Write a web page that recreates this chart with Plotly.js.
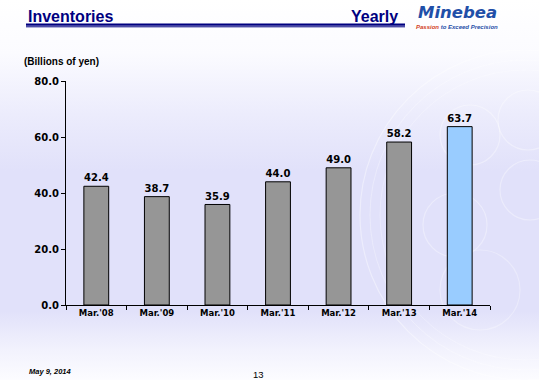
<!DOCTYPE html>
<html>
<head>
<meta charset="utf-8">
<script src="https://cdn.plot.ly/plotly-3.0.1.min.js"></script>
<style>
html,body{margin:0;padding:0;}
body{width:539px;height:380px;overflow:hidden;
background:linear-gradient(to bottom,#ffffff 0%,#fbfbff 14%,#ececfc 30%,#e1e1fa 45%,#e1e1fa 82%,#f2f2fd 92%,#fcfcff 100%);}
#chart{width:539px;height:380px;}
</style>
</head>
<body>
<div id="chart"></div>
<script>
const categories = ["Mar.'08","Mar.'09","Mar.'10","Mar.'11","Mar.'12","Mar.'13","Mar.'14"];
const inventories = [42.4, 38.7, 35.9, 44.0, 49.0, 58.2, 63.7];
const yTicks = [0, 20, 40, 60, 80];
const yTickLabels = ["0.0","20.0","40.0","60.0","80.0"];
const barColors = ["#969696","#969696","#969696","#969696","#969696","#969696","#99ccff"];

const W = 539, H = 380;
const L = 66, R = 490, T = 81, B = 305;
const px = x => (x - L) / (R - L);
const py = y => (B - y) / (B - T);

const shapes = [
  {type:'line', xref:'paper', yref:'paper', x0:px(26), x1:px(405), y0:py(24.6), y1:py(24.6), line:{color:'#000080', width:2.2}},
  {type:'line', xref:'paper', yref:'paper', x0:px(26), x1:px(405), y0:py(26.8), y1:py(26.8), line:{color:'#000080', width:1}}
];
function circ(cx, cy, r, op, w){
  shapes.push({type:'circle', xref:'paper', yref:'paper', layer:'below',
    x0:px(cx-r), x1:px(cx+r), y0:py(cy+r), y1:py(cy-r),
    line:{color:'rgba(255,255,255,'+op+')', width:w||1.2}});
}
circ(525, 215, 165, 0.4, 1.2);
circ(525, 215, 155, 0.3, 1);
circ(525, 215, 145, 0.25, 1);
circ(470, 135, 30, 0.35, 1.2);
circ(528, 120, 30, 0.35, 1.2);
circ(455, 225, 32, 0.35, 1.2);
circ(530, 190, 30, 0.35, 1.2);
circ(480, 290, 40, 0.3, 1.2);

const annotations = [
  {text:'Inventories', xref:'paper', yref:'paper', x:px(26), y:py(17), xanchor:'left', yanchor:'middle', showarrow:false,
   font:{family:'Liberation Sans, Arial', size:16, color:'#000080', weight:'bold'}},
  {text:'Yearly', xref:'paper', yref:'paper', x:px(400), y:py(17), xanchor:'right', yanchor:'middle', showarrow:false,
   font:{family:'Liberation Sans, Arial', size:16, color:'#000080', weight:'bold'}},
  {text:'<i>Minebea</i>', xref:'paper', yref:'paper', x:px(457), y:py(23.5), xanchor:'center', yanchor:'bottom', showarrow:false, borderpad:0,
   font:{family:'DejaVu Sans, Verdana', size:16.5, color:'#1f4fa8', weight:'bold'}},
  {text:'<i><span style="color:#d2401e">Passion</span> to Exceed Precision</i>', xref:'paper', yref:'paper', x:px(457), y:py(23.5), xanchor:'center', yanchor:'top', showarrow:false, borderpad:0,
   font:{family:'Liberation Sans, Arial', size:6, color:'#1f4fa8', weight:'bold'}},
  {text:'(Billions of yen)', xref:'paper', yref:'paper', x:px(22), y:py(61), xanchor:'left', yanchor:'middle', showarrow:false,
   font:{family:'Liberation Sans, Arial', size:10, color:'#000000', weight:'bold'}},
  {text:'<i>May 9, 2014</i>', xref:'paper', yref:'paper', x:px(27), y:py(371), xanchor:'left', yanchor:'middle', showarrow:false,
   font:{family:'Liberation Sans, Arial', size:7.5, color:'#000000', weight:'bold'}},
  {text:'13', xref:'paper', yref:'paper', x:px(258), y:py(374), xanchor:'center', yanchor:'middle', showarrow:false,
   font:{family:'Liberation Sans, Arial', size:9.5, color:'#000000'}}
];

const trace = {
  type:'bar', x:categories, y:inventories,
  width:0.41,
  marker:{color:barColors, line:{color:'#000000', width:1}},
  text:inventories.map(v => v.toFixed(1)),
  textposition:'outside', cliponaxis:false,
  textfont:{family:'DejaVu Sans, Verdana', size:10.5, color:'#000000', weight:'bold'},
  hoverinfo:'none'
};

const layout = {
  width:W, height:H,
  margin:{l:L, r:W-R, t:T, b:H-B, pad:0},
  paper_bgcolor:'rgba(0,0,0,0)', plot_bgcolor:'rgba(0,0,0,0)',
  showlegend:false,
  xaxis:{type:'category', range:[-0.5,6.5], showline:true, linecolor:'#000', linewidth:1,
    ticks:'outside', tickson:'boundaries', ticklen:4, tickcolor:'#000', showgrid:false, zeroline:false,
    tickfont:{family:'DejaVu Sans, Verdana', size:8.5, color:'#000', weight:'bold'}},
  yaxis:{range:[0,80], showline:true, linecolor:'#000', linewidth:1,
    ticks:'outside', ticklen:4, tickcolor:'#000', showgrid:false, zeroline:false,
    tickvals:yTicks, ticktext:yTickLabels,
    tickfont:{family:'DejaVu Sans, Verdana', size:10, color:'#000', weight:'bold'}},
  shapes:shapes, annotations:annotations
};

Plotly.newPlot('chart', [trace], layout, {staticPlot:true, displayModeBar:false});
</script>
</body>
</html>
